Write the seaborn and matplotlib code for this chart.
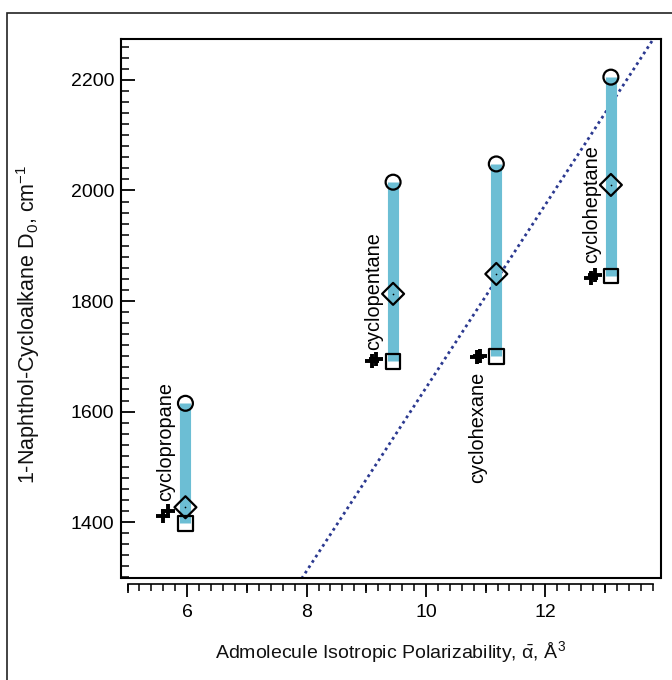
import matplotlib
matplotlib.use("Agg")
import matplotlib.pyplot as plt
import seaborn as sns
import numpy as np
import pandas as pd
from matplotlib.patches import Rectangle

# ---------------- data ----------------
molecules = ["cyclopropane", "cyclopentane", "cyclohexane", "cycloheptane"]
polariz = [5.97, 9.45, 11.18, 13.10]
d0_circle = [1615, 2015, 2048, 2205]
d0_diamond = [1427, 1813, 1849, 2010]
d0_square = [1398, 1691, 1700, 1845]
# literature values (plus markers), two per molecule
lit_x = [5.60, 5.68, 9.10, 9.16, 10.85, 10.90, 12.76, 12.83]
lit_y = [1411, 1421, 1692, 1696, 1699, 1701, 1842, 1848]
# label anchor points
label_x = [5.64, 9.12, 10.86, 12.78]
label_y = [1438, 1712, 1672, 1869]
label_va = ["bottom", "bottom", "top", "bottom"]
# linear fit (dotted)
fit_slope = 165.6
fit_intercept = -13.2
fit_xrange = [7.8, 14.0]

x_major = [6, 8, 10, 12]
y_major = [1400, 1600, 1800, 2000, 2200]

df = pd.DataFrame({"mol": molecules, "x": polariz, "circ": d0_circle,
                   "diam": d0_diamond, "sq": d0_square})
lit = pd.DataFrame({"x": lit_x, "y": lit_y})

# ---------------- style ----------------
sns.set_theme(style="white")
plt.rcParams["font.family"] = ["Liberation Sans", "DejaVu Sans"]
plt.rcParams["mathtext.fontset"] = "custom"
plt.rcParams["mathtext.rm"] = "Liberation Sans"
plt.rcParams["mathtext.it"] = "Liberation Sans:italic"
plt.rcParams["mathtext.bf"] = "Liberation Sans:bold"

fig = plt.figure(figsize=(6.72, 6.80), dpi=100)
ax = fig.add_axes([121/672, 1-578/680, (661-121)/672, (578-39)/680])

# outer frame of the figure
fig.patches.append(Rectangle((7/672, -0.1), 1.2, 1-13/680+0.1, transform=fig.transFigure,
                             fill=False, edgecolor="#222222", lw=1.2))

bar_color = "#6CBED4"
fit_color = "#2B3990"

# fit line
xs = np.array(fit_xrange)
ax.plot(xs, fit_slope*xs + fit_intercept, color=fit_color, lw=2.0,
        linestyle=(0, (1, 1.3)), zorder=1)

# vertical bars
ax.vlines(df["x"], df["sq"], df["circ"], color=bar_color, lw=8, zorder=2)

# markers
sns.scatterplot(data=df, x="x", y="circ", marker="o", s=115, facecolors="none",
                edgecolors="black", linewidth=1.6, ax=ax, zorder=3)
sns.scatterplot(data=df, x="x", y="diam", marker="D", s=125, facecolors="none",
                edgecolors="black", linewidth=1.6, ax=ax, zorder=3)
sns.scatterplot(data=df, x="x", y="diam", marker=".", s=6, color="black",
                linewidth=0, ax=ax, zorder=4)
sns.scatterplot(data=df, x="x", y="sq", marker="s", s=110, facecolors="none",
                edgecolors="black", linewidth=1.6, ax=ax, zorder=3)
sns.scatterplot(data=lit, x="x", y="y", marker="+", s=100, color="black",
                linewidth=2.8, ax=ax, zorder=3)

for m, lx, ly, va in zip(molecules, label_x, label_y, label_va):
    ax.text(lx, ly, m, rotation=90, ha="center", va=va, fontsize=14.3, color="black")

# ---------------- axes ----------------
ax.set_xlim(4.89, 13.94)
ax.set_ylim(1299, 2274)

for s in ["left", "right", "top", "bottom"]:
    ax.spines[s].set_visible(True)
    ax.spines[s].set_color("black")
    ax.spines[s].set_linewidth(1.5)
ax.spines["bottom"].set_position(("outward", 4))
ax.spines["bottom"].set_bounds(5.0, 13.8)
ax.spines["bottom"].set_linewidth(1.2)
# frame line at bottom of plot area
ax.plot([0, 1], [0, 0], transform=ax.transAxes, color="black", lw=1.5,
        clip_on=False, zorder=5)

ax.set_xticks(x_major)
ax.set_xticks(np.arange(5.0, 13.81, 0.2), minor=True)
ax.set_yticks(y_major)
ax.set_yticks(np.arange(1300, 2271, 20), minor=True)

ax.tick_params(axis="x", which="major", direction="out", length=9.5, width=1.3,
               pad=5, labelsize=14, bottom=True, top=False, colors="black")
ax.tick_params(axis="x", which="minor", direction="out", length=5, width=1.1,
               bottom=True, top=False, colors="black")
ax.tick_params(axis="y", which="major", direction="in", length=10, width=1.3,
               pad=5, labelsize=14, left=True, right=False, colors="black")
ax.tick_params(axis="y", which="minor", direction="in", length=5.5, width=1.1,
               left=True, right=False, colors="black")

# medium ticks at odd integers
sec = ax.secondary_xaxis("bottom")
sec.spines["bottom"].set_position(("outward", 4))
sec.spines["bottom"].set_visible(False)
sec.set_xticks([5, 7, 9, 11, 13])
sec.tick_params(axis="x", which="major", direction="out", length=6.5, width=1.2,
                labelbottom=False, colors="black")
sec.tick_params(axis="x", which="minor", bottom=False)

ax.set_xlabel(r"Admolecule Isotropic Polarizability, $\bar{\mathrm{\alpha}}$, Å$^{3}$",
              fontsize=14, labelpad=13, color="#111111")
ax.set_ylabel(r"1-Naphthol-Cycloalkane D$_{0}$, cm$^{-1}$", fontsize=15.5,
              color="#111111")
ax.yaxis.set_label_coords(-0.146, 0.47)
ax.grid(False)

fig.savefig("out.png", dpi=100)
